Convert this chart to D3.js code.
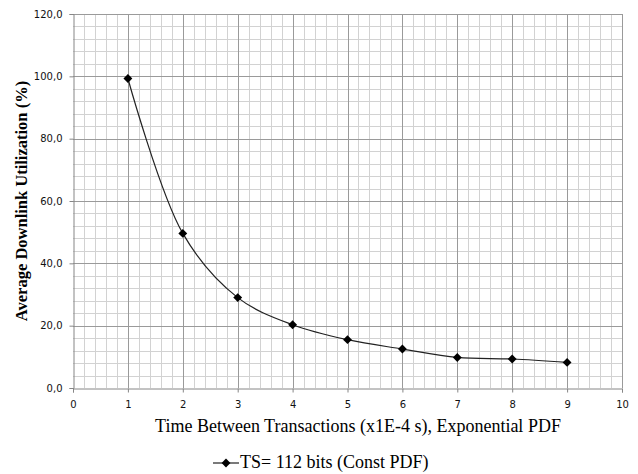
<!DOCTYPE html>
<html>
<head>
<meta charset="utf-8">
<script src="https://cdn.jsdelivr.net/npm/d3@7"></script>
<style>
    body { margin: 0; background: #fff; }
    .tick-label { font-family: "DejaVu Sans", Verdana, sans-serif; font-size: 10px; fill: #111; }
    .axis-title { font-family: "Liberation Serif", "Times New Roman", serif; fill: #000; }
</style>
</head>
<body>
<div id="chart"></div>
<script>
(function () {
    "use strict";

    // data
    var xValues = [1, 2, 3, 4, 5, 6, 7, 8, 9];
    var utilization = [99.3, 49.6, 29.0, 20.3, 15.5, 12.5, 9.8, 9.3, 8.2];
    var xTicks = [0, 1, 2, 3, 4, 5, 6, 7, 8, 9, 10];
    var yTicks = [0, 20, 40, 60, 80, 100, 120];
    var seriesName = "TS= 112 bits (Const PDF)";
    var xTitle = "Time Between Transactions (x1E-4 s), Exponential PDF";
    var yTitle = "Average Downlink Utilization (%)";

    var width = 638, height = 474;
    var margin = { top: 14, right: 16, bottom: 86, left: 73 };

    var svg = d3.select('#chart').append('svg')
        .attr('width', width)
        .attr('height', height);

    var x = d3.scaleLinear().domain([0, 10]).range([margin.left, width - margin.right]);
    var y = d3.scaleLinear().domain([0, 120]).range([height - margin.bottom, margin.top]);

    var fmt = function (d) { return d3.format('.1f')(d).replace('.', ','); };

    // minor grid
    var grid = svg.append('g').attr('class', 'grid');
    grid.selectAll('line.minor-x')
        .data(d3.range(0, 10.001, 0.2).filter(function (d) { return Math.abs(d - Math.round(d)) > 1e-6; }))
        .enter().append('line')
        .attr('x1', function (d) { return Math.round(x(d)) + 0.5; })
        .attr('x2', function (d) { return Math.round(x(d)) + 0.5; })
        .attr('y1', y(0)).attr('y2', y(120))
        .attr('stroke', '#d2d2d2').attr('stroke-width', 1);
    grid.selectAll('line.minor-y')
        .data(d3.range(0, 120.001, 4).filter(function (d) { return d % 20 !== 0; }))
        .enter().append('line')
        .attr('y1', function (d) { return Math.round(y(d)) + 0.5; })
        .attr('y2', function (d) { return Math.round(y(d)) + 0.5; })
        .attr('x1', x(0)).attr('x2', x(10))
        .attr('stroke', '#d2d2d2').attr('stroke-width', 1);

    // major grid
    grid.selectAll('line.major-x')
        .data(xTicks.slice(1))
        .enter().append('line')
        .attr('x1', function (d) { return Math.round(x(d)) + 0.5; })
        .attr('x2', function (d) { return Math.round(x(d)) + 0.5; })
        .attr('y1', y(0)).attr('y2', y(120))
        .attr('stroke', '#9a9a9a').attr('stroke-width', 1);
    grid.selectAll('line.major-y')
        .data(yTicks.slice(1))
        .enter().append('line')
        .attr('y1', function (d) { return Math.round(y(d)) + 0.5; })
        .attr('y2', function (d) { return Math.round(y(d)) + 0.5; })
        .attr('x1', x(0)).attr('x2', x(10))
        .attr('stroke', '#9a9a9a').attr('stroke-width', 1);

    // axes
    var xAxis = d3.axisBottom(x).tickValues(xTicks).tickFormat(d3.format('d')).tickSize(4).tickPadding(8);
    var yAxis = d3.axisLeft(y).tickValues(yTicks).tickFormat(fmt).tickSize(4).tickPadding(7);

    var gx = svg.append('g')
        .attr('transform', 'translate(0,' + (Math.round(y(0)) + 0.5) + ')')
        .call(xAxis);
    var gy = svg.append('g')
        .attr('transform', 'translate(' + (Math.round(x(0)) + 0.5) + ',0)')
        .call(yAxis);

    [gx, gy].forEach(function (g) {
        g.select('.domain').attr('stroke', '#868686');
        g.selectAll('.tick line').attr('stroke', '#868686');
        g.selectAll('.tick text').attr('class', 'tick-label');
    });

    // axis titles
    svg.append('text')
        .attr('class', 'axis-title')
        .attr('x', 358)
        .attr('y', 432)
        .attr('text-anchor', 'middle')
        .style('font-size', '18px')
        .text(xTitle);

    svg.append('text')
        .attr('class', 'axis-title')
        .attr('transform', 'translate(27,' + ((y(0) + y(120)) / 2) + ') rotate(-90)')
        .attr('text-anchor', 'middle')
        .style('font-size', '16.5px')
        .style('font-weight', 'bold')
        .text(yTitle);

    // series
    var data = xValues.map(function (d, i) { return { x: d, y: utilization[i] }; });

    var line = d3.line()
        .x(function (d) { return x(d.x); })
        .y(function (d) { return y(d.y); })
        .curve(d3.curveCatmullRom.alpha(0.5));

    svg.append('path')
        .datum(data)
        .attr('fill', 'none')
        .attr('stroke', '#222')
        .attr('stroke-width', 1.2)
        .attr('d', line);

    var diamond = d3.symbol().type(d3.symbolDiamond2).size(50);

    svg.selectAll('.point')
        .data(data)
        .enter().append('path')
        .attr('class', 'point')
        .attr('transform', function (d) { return 'translate(' + x(d.x) + ',' + y(d.y) + ')'; })
        .attr('d', diamond)
        .attr('fill', '#000');

    // legend
    var legend = svg.append('g').attr('transform', 'translate(213,463)');
    legend.append('line')
        .attr('x1', 0).attr('x2', 26).attr('y1', 0).attr('y2', 0)
        .attr('stroke', '#222').attr('stroke-width', 1.2);
    legend.append('path')
        .attr('transform', 'translate(13,0)')
        .attr('d', diamond)
        .attr('fill', '#000');
    legend.append('text')
        .attr('class', 'axis-title')
        .attr('x', 27)
        .attr('y', 5)
        .style('font-size', '18px')
        .text(seriesName);
})();
</script>
</body>
</html>
